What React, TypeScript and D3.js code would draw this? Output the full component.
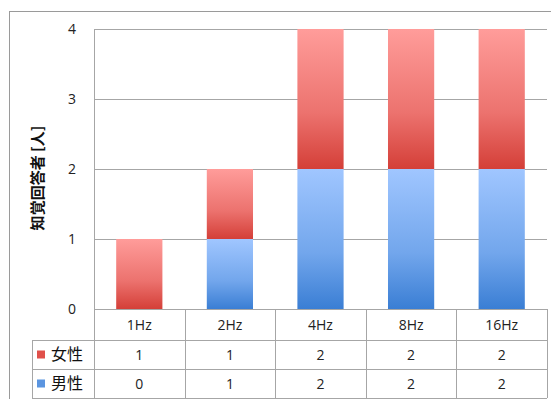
import React from "react";
import * as d3 from "d3";

const categories = ["1Hz", "2Hz", "4Hz", "8Hz", "16Hz"];
const femaleValues = [1, 1, 2, 2, 2];
const maleValues = [0, 1, 2, 2, 2];
const yTicks = [0, 1, 2, 3, 4];

const W = 551;
const H = 399;
const plot = { left: 94, right: 547, top: 29, bottom: 309 };
const rowLines = [309, 340, 369, 398];
const labelLeft = 32;
const font = "'Open Sans', 'Noto Sans CJK JP', sans-serif";
const jpFont = "'Noto Sans CJK JP', sans-serif";

const series = [
  { key: "male", label: "男性", values: maleValues, top: "#a0c6ff", bottom: "#3a7ed4", swatch: "#5b95e0" },
  { key: "female", label: "女性", values: femaleValues, top: "#ff9c9a", bottom: "#d43f38", swatch: "#e0504a" },
];

const App: React.FC = () => {
  const x = d3
    .scaleBand<string>()
    .domain(categories)
    .range([plot.left, plot.right])
    .paddingInner(0.49)
    .paddingOuter(0.245);
  const cell = d3.scaleBand<string>().domain(categories).range([plot.left, plot.right]);
  const y = d3.scaleLinear().domain([0, 4]).range([plot.bottom, plot.top]);

  const table = categories.map((c, i) => ({
    cat: c,
    male: maleValues[i],
    female: femaleValues[i],
  }));
  const stacked = d3.stack<any>().keys(["male", "female"])(table);

  const grid = "#a6a6a6";
  // table rows: female first, then male (as in the reference)
  const tableRows = [series[1], series[0]];

  return (
    <svg
      width={W}
      height={H}
      style={{ position: "fixed", top: 0, left: 0, background: "#fff" }}
    >
      <defs>
        {series.map((s) => (
          <linearGradient key={s.key} id={`g-${s.key}`} x1="0" y1="0" x2="0" y2="1">
            <stop offset="0" stopColor={s.top} />
            <stop offset="0.6" stopColor={d3.interpolateRgb(s.top, s.bottom)(0.45)} />
            <stop offset="1" stopColor={s.bottom} />
          </linearGradient>
        ))}
      </defs>

      {/* outer frame */}
      <rect x={9.5} y={11.5} width={W} height={H} fill="none" stroke="#9a9a9a" />

      {/* gridlines */}
      {yTicks
        .filter((t) => t > 0)
        .map((t) => (
          <line
            key={t}
            x1={plot.left}
            x2={plot.right}
            y1={Math.round(y(t)) + 0.5}
            y2={Math.round(y(t)) + 0.5}
            stroke={grid}
          />
        ))}

      {/* y tick labels */}
      {yTicks.map((t) => (
        <text
          key={t}
          x={76}
          y={y(t)}
          dy="0.36em"
          textAnchor="end"
          fontFamily={font}
          fontSize={14}
          fill="#222"
        >
          {t}
        </text>
      ))}

      {/* y title */}
      <text
        transform={`translate(43, ${178}) rotate(-90)`}
        textAnchor="middle"
        fontFamily={jpFont}
        fontWeight="bold"
        fontSize={15}
        fill="#111"
      >
        知覚回答者 [人]
      </text>

      {/* bars */}
      {stacked.map((layer) => (
        <g key={layer.key} fill={`url(#g-${layer.key})`}>
          {layer.map((d, i) =>
            d[1] - d[0] > 0 ? (
              <rect
                key={i}
                x={x(categories[i])}
                y={y(d[1])}
                width={x.bandwidth()}
                height={y(d[0]) - y(d[1])}
              />
            ) : null
          )}
        </g>
      ))}

      {/* table lines */}
      <line x1={plot.left} x2={plot.right} y1={rowLines[0] + 0.5} y2={rowLines[0] + 0.5} stroke={grid} />
      {rowLines.slice(1).map((r) => (
        <line key={r} x1={labelLeft} x2={plot.right} y1={r + 0.5} y2={r + 0.5} stroke={grid} />
      ))}
      <line x1={plot.left + 0.5} x2={plot.left + 0.5} y1={plot.top} y2={rowLines[3]} stroke={grid} />
      <line x1={labelLeft + 0.5} x2={labelLeft + 0.5} y1={rowLines[1]} y2={rowLines[3]} stroke={grid} />
      {categories.map((c) => (
        <line
          key={c}
          x1={Math.round((cell(c) as number) + cell.bandwidth()) + 0.5}
          x2={Math.round((cell(c) as number) + cell.bandwidth()) + 0.5}
          y1={rowLines[0]}
          y2={rowLines[3]}
          stroke={grid}
        />
      ))}

      {/* category header */}
      {categories.map((c) => (
        <text
          key={c}
          x={(cell(c) as number) + cell.bandwidth() / 2}
          y={(rowLines[0] + rowLines[1]) / 2}
          dy="0.36em"
          textAnchor="middle"
          fontFamily={font}
          fontSize={14}
          fill="#222"
        >
          {c}
        </text>
      ))}

      {/* data rows */}
      {tableRows.map((s, r) => {
        const cy = (rowLines[r + 1] + rowLines[r + 2]) / 2;
        return (
          <g key={s.key}>
            <rect x={37} y={cy - 4} width={8} height={8} fill={s.swatch} />
            <text
              x={51}
              y={cy}
              dy="0.36em"
              fontFamily={jpFont}
              fontSize={16}
              fill="#111"
            >
              {s.label}
            </text>
            {categories.map((c, i) => (
              <text
                key={c}
                x={(cell(c) as number) + cell.bandwidth() / 2}
                y={cy}
                dy="0.36em"
                textAnchor="middle"
                fontFamily={font}
                fontSize={14}
                fill="#222"
              >
                {s.values[i]}
              </text>
            ))}
          </g>
        );
      })}
    </svg>
  );
};

export default App;
